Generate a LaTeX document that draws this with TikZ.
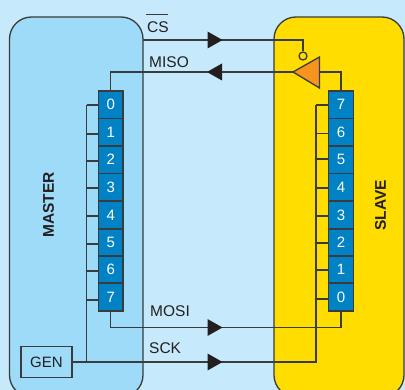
\documentclass[tikz,border=0pt]{standalone}
\usepackage{fontspec}
\setmainfont{Liberation Sans}
\definecolor{bgc}{HTML}{C6E9FB}
\definecolor{masterc}{HTML}{9DDBF9}
\definecolor{slavec}{HTML}{FFDD00}
\definecolor{cellc}{HTML}{0082C4}
\definecolor{orangec}{HTML}{F7941E}
\definecolor{linec}{HTML}{3A3B3D}
\definecolor{headc}{HTML}{231F20}
\tikzset{
  wire/.style={draw=linec,line width=1.3pt},
  boxline/.style={draw=linec,line width=1.3pt,rounded corners=22pt},
  cellbox/.style={draw=linec,line width=1.3pt,fill=cellc,text=white,minimum width=24.5pt,minimum height=27.5pt,inner sep=0pt,font=\fontsize{15}{17}\selectfont},
  siglabel/.style={inner sep=0pt,anchor=base west,text=headc,font=\fontsize{15.5}{17}\selectfont},
  sidelabel/.style={inner sep=0pt,rotate=90,text=headc,font=\fontsize{15.5}{17}\selectfont\bfseries},
  headfill/.style={fill=headc,draw=none},
}
\newcommand{\headright}[2]{\path[headfill] (#1,#2-8.5) -- (#1+15,#2) -- (#1,#2+8.5) -- cycle;}
\newcommand{\headleft}[2]{\path[headfill] (#1,#2-8.5) -- (#1-15,#2) -- (#1,#2+8.5) -- cycle;}
\begin{document}
\begin{tikzpicture}[x=1pt,y=-1pt]
\useasboundingbox (0,0) rectangle (405,390);
\clip (0,0) rectangle (405,390);
\fill[bgc] (0,0) rectangle (405,390);
\path[boxline,fill=masterc] (9.5,17) rectangle (143,397);
\path[boxline,fill=slavec] (274,17) rectangle (404,397);
% registers
\foreach \i/\yy/\hh in {0/104.75/27.5,1/132.25/27.5,2/159.75/27.5,3/187.25/27.5,4/215/28,5/242.5/27,6/269.5/27,7/297/28}{
  \node[cellbox,minimum height=\hh pt] (m\i) at (110.75,\yy) {\i};
}
\foreach \i/\yy/\hh in {7/104.75/27.5,6/132.25/27.5,5/159.75/27.5,4/187.25/27.5,3/215/28,2/242.5/27,1/269.5/27,0/297/28}{
  \node[cellbox,minimum height=\hh pt] (s\i) at (341,\yy) {\i};
}
% generator
\node[draw=linec,line width=1.3pt,minimum width=51pt,minimum height=30.5pt,inner sep=0pt,text=headc,font=\fontsize{15}{17}\selectfont] (gen) at (46.5,362) {GEN};
% labels
\node[siglabel] (cs) at (147,32.5) {CS};
\coordinate (csa) at (146,15); \coordinate (csb) at (168,15);
\draw[draw=linec,line width=1pt] (csa) -- (csb);
\node[siglabel] (miso) at (149,67.5) {MISO};
\node[siglabel] (mosi) at (150,317) {MOSI};
\node[siglabel] (sck) at (149,354) {SCK};
\node[sidelabel] (master) at (48.5,205) {MASTER};
\node[sidelabel] (slave) at (380.5,205.5) {SLAVE};
% tri-state buffer
\coordinate (tip) at (293,72);
\coordinate (baseu) at (319.5,57);
\coordinate (based) at (319.5,88);
\coordinate (basem) at (319.5,72);
\node[draw=linec,line width=1.3pt,circle,minimum size=8pt,inner sep=0pt] (en) at (303,56) {};
\draw[wire,fill=orangec,line join=miter] (tip) -- (baseu) -- (based) -- cycle;
% CS
\coordinate (csl) at (143,40);
\draw[wire] (csl) -| (en.north);
% MISO
\draw[wire] (tip) -- (110.75,72) -- (m0.north);
\draw[wire] (basem) -| (s7.north);
% MOSI
\draw[wire] (m7.south) |- (341,327.5) -- (s0.south);
% SCK and bit clocks
\coordinate (mbus) at (86.5,362);
\coordinate (sbus) at (316,362);
\draw[wire] (gen.east) -- (sbus) -- (316,105);
\draw[wire] (mbus) -- (86.5,105);
\foreach \i/\yy in {0/105,1/134,2/161,3/188,4/216,5/244,6/271,7/300}{
  \draw[wire] (86.5,\yy) -- (m\i.west |- 0,\yy);
}
\foreach \i/\yy in {7/105,6/133.5,5/159,4/188,3/216,2/243,1/270,0/299}{
  \draw[wire] (316,\yy) -- (s\i.west |- 0,\yy);
}
% arrowheads
\headright{207.5}{40}
\headleft{222}{72}
\headright{207.5}{327.5}
\headright{207.5}{362}
\end{tikzpicture}
\end{document}
